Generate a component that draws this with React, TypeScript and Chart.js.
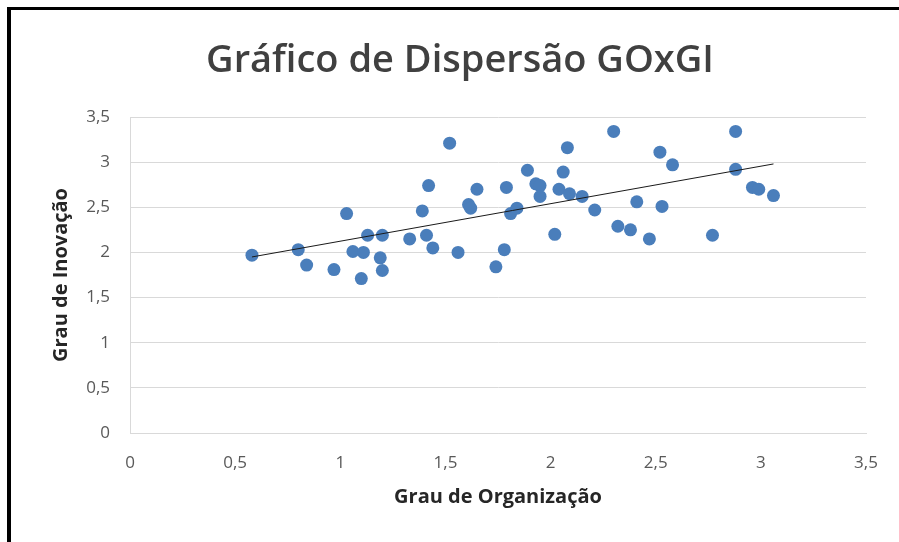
import React, { useEffect, useRef } from "react";
import { Chart, registerables } from "chart.js";

Chart.register(...registerables);

const chartTitle = "Gráfico de Dispersão GOxGI";
const xAxisTitle = "Grau de Organização";
const yAxisTitle = "Grau de Inovação";

const goValues = [0.58, 0.8, 0.84, 0.97, 1.03, 1.06, 1.11, 1.1, 1.13, 1.2, 1.19, 1.2, 1.33, 1.39, 1.42, 1.41, 1.44, 1.52, 1.56, 1.61, 1.62, 1.65, 1.74, 1.78, 1.79, 1.81, 1.84, 1.89, 1.93, 1.95, 1.95, 2.02, 2.04, 2.06, 2.08, 2.09, 2.15, 2.21, 2.3, 2.32, 2.38, 2.41, 2.47, 2.52, 2.53, 2.58, 2.77, 2.88, 2.88, 2.96, 2.99, 3.06];
const giValues = [1.97, 2.03, 1.86, 1.81, 2.43, 2.01, 2.0, 1.71, 2.19, 2.19, 1.94, 1.8, 2.15, 2.46, 2.74, 2.19, 2.05, 3.21, 2.0, 2.53, 2.49, 2.7, 1.84, 2.03, 2.72, 2.43, 2.49, 2.91, 2.76, 2.74, 2.62, 2.2, 2.7, 2.89, 3.16, 2.65, 2.62, 2.47, 3.34, 2.29, 2.25, 2.56, 2.15, 3.11, 2.51, 2.97, 2.19, 3.34, 2.92, 2.72, 2.7, 2.63];

const trendX = [0.58, 3.06];
const trendY = [1.95, 2.98];

const axisMin = 0;
const axisMax = 3.5;
const axisStep = 0.5;

const fmt = (v: number) => String(v).replace(".", ",");

export default function App() {
  const ref = useRef<HTMLCanvasElement | null>(null);

  useEffect(() => {
    document.body.style.margin = "0";
    const canvas = ref.current;
    if (!canvas) return;

    const framePlugin = {
      id: "frame",
      beforeDraw(chart: any) {
        const ctx = chart.ctx;
        ctx.save();
        ctx.fillStyle = "#ffffff";
        ctx.fillRect(0, 0, chart.width, chart.height);
        ctx.restore();
      },
      afterDraw(chart: any) {
        const ctx = chart.ctx;
        ctx.save();
        ctx.fillStyle = "#000000";
        ctx.fillRect(7, 7, chart.width - 7, 3);
        ctx.fillRect(7, 7, 4, chart.height - 7);
        ctx.fillStyle = "#404040";
        ctx.font = "600 38px 'Open Sans', sans-serif";
        ctx.textAlign = "center";
        ctx.textBaseline = "middle";
        ctx.fillText(chartTitle, 460, 61);
        ctx.restore();
      },
    };

    const chart = new Chart(canvas, {
      type: "scatter",
      data: {
        datasets: [
          {
            label: "GOxGI",
            data: goValues.map((x, i) => ({ x, y: giValues[i] })),
            backgroundColor: "#4a7ebb",
            borderColor: "#4a7ebb",
            pointRadius: 6.5,
            pointBorderWidth: 0,
            order: 2,
          },
          {
            type: "line",
            label: "Tendência",
            data: trendX.map((x, i) => ({ x, y: trendY[i] })),
            borderColor: "#1a1a1a",
            borderWidth: 1,
            pointRadius: 0,
            fill: false,
            order: 1,
          } as any,
        ],
      },
      options: {
        responsive: false,
        animation: false,
        layout: { padding: { top: 117, left: 0, right: 33, bottom: 0 } },
        plugins: {
          legend: { display: false },
          tooltip: { enabled: false },
          title: { display: false },
        },
        scales: {
          x: {
            type: "linear",
            min: axisMin,
            max: axisMax,
            ticks: {
              stepSize: axisStep,
              padding: 20,
              color: "#595959",
              font: { family: "'Open Sans', sans-serif", size: 17 },
              callback: (v: any) => fmt(Number(v)),
            },
            grid: { display: false, drawTicks: false },
            border: { display: true, color: "#d9d9d9", width: 1 },
            title: {
              display: true,
              text: xAxisTitle,
              color: "#262626",
              font: { family: "'Open Sans', sans-serif", size: 20, weight: "bold" },
              padding: { top: 0, bottom: 33 },
            },
            afterFit: (s: any) => {
              s.height = 109;
            },
          },
          y: {
            type: "linear",
            min: axisMin,
            max: axisMax,
            ticks: {
              stepSize: axisStep,
              padding: 20,
              color: "#595959",
              font: { family: "'Open Sans', sans-serif", size: 17 },
              callback: (v: any) => fmt(Number(v)),
            },
            grid: { display: true, color: "#d9d9d9", lineWidth: 1, drawTicks: false },
            border: { display: true, color: "#d9d9d9", width: 1 },
            title: {
              display: true,
              text: yAxisTitle,
              color: "#262626",
              font: { family: "'Open Sans', sans-serif", size: 20, weight: "bold" },
              padding: { top: 49, bottom: 0 },
            },
            afterFit: (s: any) => {
              s.width = 130;
            },
          },
        },
      },
      plugins: [framePlugin],
    });

    return () => chart.destroy();
  }, []);

  return (
    <div style={{ width: 899, height: 542, position: "relative" }}>
      <canvas ref={ref} width={899} height={542} style={{ display: "block" }} />
    </div>
  );
}
